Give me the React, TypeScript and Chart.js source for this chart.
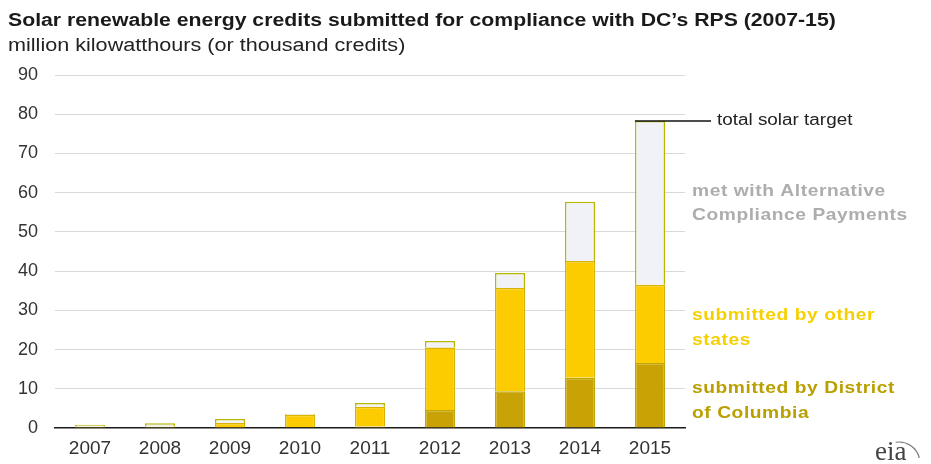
import React, { useEffect, useRef } from "react";
import { Chart, registerables } from "chart.js";

Chart.register(...registerables);

const categories = ["2007", "2008", "2009", "2010", "2011", "2012", "2013", "2014", "2015"];
const dcValues = [0, 0, 0.1, 0.2, 0.4, 4.6, 9.4, 12.8, 16.6];
const otherStatesValues = [0.3, 0.3, 1.2, 3.2, 5.0, 15.9, 26.3, 29.8, 19.9];
const acpValues = [0.5, 0.9, 1.0, 0.2, 1.0, 1.7, 3.8, 15.1, 41.8];
const yTicks = [0, 10, 20, 30, 40, 50, 60, 70, 80, 90];

const titleText = "Solar renewable energy credits submitted for compliance with DC\u2019s RPS (2007-15)";
const subtitleText = "million kilowatthours (or thousand credits)";
const targetLabel = "total solar target";
const acpLabel = ["met with Alternative", "Compliance Payments"];
const otherLabel = ["submitted by other", "states"];
const dcLabel = ["submitted by District", "of Columbia"];

const FONT = "'Liberation Sans', Arial, sans-serif";

function drawStretched(ctx: CanvasRenderingContext2D, text: string, x: number, y: number, sx: number) {
  ctx.save();
  ctx.translate(x, y);
  ctx.scale(sx, 1);
  ctx.fillText(text, 0, 0);
  ctx.restore();
}

const overlayPlugin = {
  id: "overlay",
  beforeDraw(chart: any) {
    const ctx = chart.ctx;
    ctx.save();
    ctx.fillStyle = "#ffffff";
    ctx.fillRect(0, 0, chart.width, chart.height);
    ctx.restore();
  },
  afterDraw(chart: any) {
    const ctx = chart.ctx as CanvasRenderingContext2D;
    const y = chart.scales.y;
    ctx.save();
    // title
    ctx.fillStyle = "#1a1a1a";
    ctx.textBaseline = "alphabetic";
    ctx.textAlign = "left";
    ctx.font = `bold 18px ${FONT}`;
    drawStretched(ctx, titleText, 8, 26, 1.18);
    ctx.font = `18px ${FONT}`;
    ctx.fillStyle = "#222";
    drawStretched(ctx, subtitleText, 8, 51, 1.2);

    // total target line
    const last = categories.length - 1;
    const total = dcValues[last] + otherStatesValues[last] + acpValues[last];
    const meta = chart.getDatasetMeta(2);
    const bar = meta.data[last];
    const ty = y.getPixelForValue(total);
    const left = bar.x - bar.width / 2;
    ctx.strokeStyle = "#111";
    ctx.lineWidth = 1.5;
    ctx.beginPath();
    ctx.moveTo(left, ty);
    ctx.lineTo(711, ty);
    ctx.stroke();
    ctx.font = `16px ${FONT}`;
    ctx.fillStyle = "#222";
    ctx.textBaseline = "middle";
    drawStretched(ctx, targetLabel, 717, ty, 1.18);

    // series labels
    ctx.font = `bold 17px ${FONT}`;
    (ctx as any).letterSpacing = "0.5px";
    const sx = 1.13;
    ctx.fillStyle = "#adadad";
    drawStretched(ctx, acpLabel[0], 692, 191, sx);
    drawStretched(ctx, acpLabel[1], 692, 215, sx);
    ctx.fillStyle = "#f7d000";
    drawStretched(ctx, otherLabel[0], 692, 315, sx);
    drawStretched(ctx, otherLabel[1], 692, 340, sx);
    ctx.fillStyle = "#b9a000";
    drawStretched(ctx, dcLabel[0], 692, 388, sx);
    drawStretched(ctx, dcLabel[1], 692, 413, sx);
    (ctx as any).letterSpacing = "0px";

    // eia logo
    ctx.fillStyle = "#444";
    ctx.font = `27px 'Liberation Serif', 'DejaVu Serif', serif`;
    ctx.textBaseline = "alphabetic";
    ctx.fillText("eia", 875, 460);
    ctx.strokeStyle = "#777";
    ctx.lineWidth = 1.2;
    ctx.beginPath();
    ctx.arc(899, 463, 21, -Math.PI * 0.55, -Math.PI * 0.08);
    ctx.stroke();
    ctx.restore();
  },
};

export default function App() {
  const ref = useRef<HTMLCanvasElement | null>(null);
  useEffect(() => {
    document.body.style.margin = "0";
    const canvas = ref.current;
    if (!canvas) return;
    const chart = new Chart(canvas, {
      type: "bar",
      data: {
        labels: categories,
        datasets: [
          {
            label: "submitted by District of Columbia",
            data: dcValues,
            backgroundColor: "#c9a206",
            borderColor: "#c0a800",
            borderWidth: 1.5,
          },
          {
            label: "submitted by other states",
            data: otherStatesValues,
            backgroundColor: "#fccb00",
            borderColor: "#d8b400",
            borderWidth: 1.5,
          },
          {
            label: "met with Alternative Compliance Payments",
            data: acpValues,
            backgroundColor: "#f0f2f7",
            borderColor: "#b9b800",
            borderWidth: 1.5,
          },
        ],
      },
      options: {
        responsive: false,
        animation: false,
        layout: { padding: { top: 75, right: 246, bottom: 0, left: 0 } },
        plugins: {
          legend: { display: false },
          title: { display: false },
          tooltip: { enabled: false },
        },
        datasets: {
          bar: { categoryPercentage: 1, barPercentage: 0.43 },
        },
        scales: {
          x: {
            stacked: true,
            grid: { display: false, drawTicks: false },
            border: { display: true, color: "#1a1a1a", width: 1.5 },
            ticks: { color: "#333", font: { family: FONT, size: 19 }, padding: 9, maxRotation: 0 },
            afterFit(scale: any) {
              scale.height = 36;
            },
          },
          y: {
            stacked: true,
            min: 0,
            max: 90,
            afterBuildTicks(scale: any) {
              scale.ticks = yTicks.map((v) => ({ value: v }));
            },
            grid: {
              drawTicks: false,
              color: (c: any) => (c.tick && c.tick.value === 0 ? "rgba(0,0,0,0)" : "#d9d9d9"),
              lineWidth: 1,
            },
            border: { display: false },
            ticks: { color: "#333", font: { family: FONT, size: 18 }, padding: 17 },
            afterFit(scale: any) {
              scale.width = 55;
            },
          },
        },
      },
      plugins: [overlayPlugin],
    });
    return () => chart.destroy();
  }, []);
  return (
    <div style={{ position: "absolute", left: 0, top: 0, width: 931, height: 464 }}>
      <canvas ref={ref} width={931} height={464} style={{ display: "block" }} />
    </div>
  );
}
